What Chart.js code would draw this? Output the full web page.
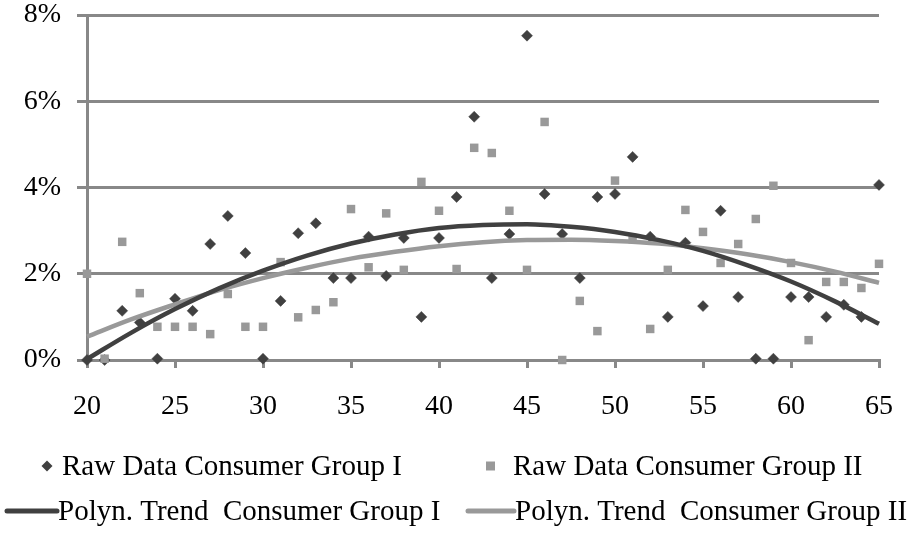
<!DOCTYPE html>
<html><head><meta charset="utf-8">
<script src="https://cdn.jsdelivr.net/npm/chart.js@4"></script>
<style>html,body{margin:0;padding:0;background:#fff}#wrap{width:912px;height:536px}</style>
</head><body><div id="wrap"><canvas id="c" width="912" height="536"></canvas></div>
<script>
// ---- data (values in %) ----
const ages = [20,21,22,23,24,25,26,27,28,29,30,31,32,33,34,35,36,37,38,39,40,41,42,43,44,45,46,47,48,49,50,51,52,53,54,55,56,57,58,59,60,61,62,63,64,65];
const groupI = [0.00,0.00,1.14,0.87,0.03,1.42,1.14,2.69,3.34,2.48,0.03,1.37,2.94,3.17,1.90,1.90,2.86,1.95,2.83,1.00,2.83,3.78,5.64,1.90,2.92,7.52,3.85,2.92,1.90,3.78,3.85,4.71,2.86,1.00,2.72,1.25,3.46,1.46,0.03,0.03,1.46,1.46,1.00,1.28,1.00,4.06];
const groupII = [2.00,0.03,2.74,1.55,0.77,0.77,0.77,0.60,1.53,0.77,0.77,2.27,0.99,1.16,1.34,3.50,2.15,3.40,2.09,4.13,3.46,2.11,4.92,4.80,3.46,2.09,5.52,0.00,1.37,0.67,4.16,2.80,0.72,2.09,3.48,2.97,2.25,2.69,3.27,4.04,2.25,0.46,1.81,1.81,1.67,2.23];
const trendAges = [20,22.5,25,27.5,30,32.5,35,37.5,40,42.5,45,47.5,50,52.5,55,57.5,60,62.5,65];
const trendI = [0.02,0.63,1.18,1.66,2.07,2.42,2.70,2.91,3.06,3.13,3.15,3.09,2.97,2.78,2.53,2.20,1.82,1.36,0.84];
const trendII = [0.54,0.94,1.29,1.62,1.90,2.14,2.35,2.51,2.64,2.73,2.78,2.79,2.76,2.70,2.59,2.45,2.27,2.05,1.79];
const xTicks = [20,25,30,35,40,45,50,55,60,65];
const yTicks = [0,2,4,6,8];
const labels = ['Raw Data Consumer Group I','Raw Data Consumer Group II','Polyn. Trend  Consumer Group I','Polyn. Trend  Consumer Group II'];

const DARK = '#404040', LIGHT = '#999999', GRID = '#888888';
const FONT = {family:'"Liberation Serif", "Times New Roman", serif', size:28};

const pts = (xs, ys) => xs.map((x,i)=>({x:x, y:ys[i]}));

const legendPlugin = {
  id:'customLegend',
  afterDraw(chart){
    const c = chart.ctx;
    const ds = chart.data.datasets;
    c.save();
    c.font = '29px "Liberation Serif", "Times New Roman", serif';
    c.textBaseline = 'middle';
    c.textAlign = 'left';
    const r1 = 466, r2 = 511;
    c.fillStyle = DARK;
    c.beginPath(); c.moveTo(47,r1-5.5); c.lineTo(52.5,r1); c.lineTo(47,r1+5.5); c.lineTo(41.5,r1); c.closePath(); c.fill();
    c.fillStyle = '#000'; c.fillText(ds[0].label, 62, r1+1);
    c.fillStyle = LIGHT; c.fillRect(486, r1-4.5, 9, 9);
    c.fillStyle = '#000'; c.fillText(ds[1].label, 513, r1+1);
    c.lineCap = 'round'; c.lineWidth = 5;
    c.strokeStyle = DARK; c.beginPath(); c.moveTo(7,r2); c.lineTo(57,r2); c.stroke();
    c.fillStyle = '#000'; c.fillText(ds[2].label, 58, r2+1);
    c.strokeStyle = LIGHT; c.beginPath(); c.moveTo(468,r2); c.lineTo(514,r2); c.stroke();
    c.fillStyle = '#000'; c.fillText(ds[3].label, 515, r2+1);
    c.restore();
  }
};

new Chart(document.getElementById('c'), {
  type:'scatter',
  data:{datasets:[
    {label:labels[0], data:pts(ages,groupI), pointStyle:'rectRot', pointRadius:5.5, pointBackgroundColor:DARK, pointBorderColor:DARK, pointBorderWidth:0.5, showLine:false, clip:false, order:3},
    {label:labels[1], data:pts(ages,groupII), pointStyle:'rect', pointRadius:6, pointBackgroundColor:LIGHT, pointBorderColor:LIGHT, pointBorderWidth:0, showLine:false, clip:false, order:2},
    {label:labels[2], data:pts(trendAges,trendI), showLine:true, pointRadius:0, borderColor:DARK, borderWidth:4.5, cubicInterpolationMode:'monotone', fill:false, clip:false, order:0},
    {label:labels[3], data:pts(trendAges,trendII), showLine:true, pointRadius:0, borderColor:LIGHT, borderWidth:4.5, cubicInterpolationMode:'monotone', fill:false, clip:false, order:1}
  ]},
  options:{
    responsive:false, animation:false, devicePixelRatio:1,
    layout:{padding:{top:15,right:33,bottom:116,left:0}},
    plugins:{legend:{display:false}, tooltip:{enabled:false}},
    scales:{
      x:{type:'linear', min:20, max:65,
        afterBuildTicks(s){ s.ticks = xTicks.map(v=>({value:v})); },
        ticks:{font:FONT, color:'#000', padding:22, maxRotation:0, autoSkip:false},
        grid:{drawOnChartArea:false, drawTicks:true, tickLength:8, color:GRID, lineWidth:3},
        border:{display:true, color:GRID, width:3},
        afterFit(s){ s.height = 60; s.paddingLeft = 0; s.paddingRight = 0; }
      },
      y:{min:0, max:8,
        afterBuildTicks(s){ s.ticks = yTicks.map(v=>({value:v})); },
        ticks:{font:FONT, color:'#000', padding:16, callback:v=>v+'%'},
        grid:{color:GRID, lineWidth:3, tickLength:10, drawTicks:true},
        border:{display:true, color:GRID, width:3},
        afterFit(s){ s.width = 87; s.paddingTop = 0; s.paddingBottom = 0; }
      }
    }
  },
  plugins:[legendPlugin]
});
</script></body></html>
